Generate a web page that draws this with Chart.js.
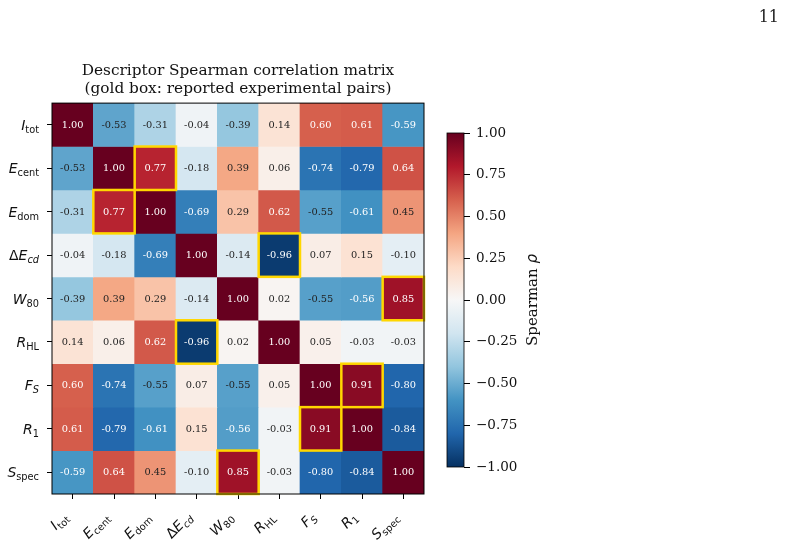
<!DOCTYPE html>
<html>
<head>
<meta charset="utf-8">
<script src="https://cdn.jsdelivr.net/npm/chart.js@4.4.1/dist/chart.umd.min.js"></script>
<style>
  html, body { margin: 0; padding: 0; background: #fff; }
  #wrap { position: relative; width: 786px; height: 545px; }
  canvas { position: absolute; left: 0; top: 0; }
  #page { position: absolute; right: 7px; top: 7px; font: 16px 'DejaVu Serif', serif; color: #222; }
</style>
</head>
<body>
<div id="wrap">
  <canvas id="heat" width="786" height="545"></canvas>
  <canvas id="cbar" width="786" height="545"></canvas>
  <div id="page">11</div>
</div>
<script>
// descriptors (main symbol + subscript), same order on both axes
const names     = ['I_tot', 'E_cent', 'E_dom', 'ΔE_cd', 'W_80', 'R_HL', 'F_S', 'R_1', 'S_spec'];
const labelMain = ['I', 'E', 'E', 'ΔE', 'W', 'R', 'F', 'R', 'S'];
const labelSub  = ['tot', 'cent', 'dom', 'cd', '80', 'HL', 'S', '1', 'spec'];
const subItalic = [false, false, false, true, false, false, true, false, false];

// Spearman rho, row by row
const rho = [
  [ 1.00, -0.53, -0.31, -0.04, -0.39,  0.14,  0.60,  0.61, -0.59],
  [-0.53,  1.00,  0.77, -0.18,  0.39,  0.06, -0.74, -0.79,  0.64],
  [-0.31,  0.77,  1.00, -0.69,  0.29,  0.62, -0.55, -0.61,  0.45],
  [-0.04, -0.18, -0.69,  1.00, -0.14, -0.96,  0.07,  0.15, -0.10],
  [-0.39,  0.39,  0.29, -0.14,  1.00,  0.02, -0.55, -0.56,  0.85],
  [ 0.14,  0.06,  0.62, -0.96,  0.02,  1.00,  0.05, -0.03, -0.03],
  [ 0.60, -0.74, -0.55,  0.07, -0.55,  0.05,  1.00,  0.91, -0.80],
  [ 0.61, -0.79, -0.61,  0.15, -0.56, -0.03,  0.91,  1.00, -0.84],
  [-0.59,  0.64,  0.45, -0.10,  0.85, -0.03, -0.80, -0.84,  1.00]
];

// reported experimental pairs [row, col]
const goldPairs = [[1, 2], [2, 1], [3, 5], [5, 3], [4, 8], [8, 4], [6, 7], [7, 6]];

const cbMin = -1, cbMax = 1, cbStep = 0.25;

// RdBu_r stops, -1 -> +1
const RDBU_R = ['#053061', '#2166ac', '#4393c3', '#92c5de', '#d1e5f0', '#f7f7f7',
                '#fddbc7', '#f4a582', '#d6604d', '#b2182b', '#67001f'];

function hex2rgb(h) { return [1, 3, 5].map(i => parseInt(h.substr(i, 2), 16)); }
function cmap(v) {
  const t = Math.min(1, Math.max(0, (v - cbMin) / (cbMax - cbMin))) * (RDBU_R.length - 1);
  const i = Math.min(RDBU_R.length - 2, Math.floor(t)), f = t - i;
  const a = hex2rgb(RDBU_R[i]), b = hex2rgb(RDBU_R[i + 1]);
  const c = a.map((x, k) => Math.round(x + (b[k] - x) * f));
  return `rgb(${c[0]},${c[1]},${c[2]})`;
}

const SANS = '"DejaVu Sans", sans-serif';
const SERIF = '"DejaVu Serif", serif';

// mathtext-like label: italic symbol + smaller subscript
function mathParts(i, size) {
  const parts = [];
  let m = labelMain[i];
  if (m.startsWith('Δ')) { parts.push({ t: 'Δ', font: `${size}px ${SANS}`, dy: 0 }); m = m.slice(1); }
  parts.push({ t: m, font: `italic ${size}px ${SANS}`, dy: 0 });
  parts.push({ t: labelSub[i], font: `${subItalic[i] ? 'italic ' : ''}${(size * 0.7).toFixed(1)}px ${SANS}`, dy: size * 0.22 });
  return parts;
}
function drawMath(ctx, i, size, xRight, yBase) {
  const parts = mathParts(i, size);
  let w = 0;
  parts.forEach(p => { ctx.font = p.font; p.w = ctx.measureText(p.t).width; w += p.w; });
  let x = xRight - w;
  ctx.textAlign = 'left';
  ctx.textBaseline = 'alphabetic';
  parts.forEach(p => { ctx.font = p.font; ctx.fillText(p.t, x, yBase + p.dy); x += p.w; });
}

const heatPlugin = {
  id: 'heatExtras',
  afterDatasetsDraw(chart) {
    const ctx = chart.ctx;
    ctx.save();
    // cell values
    ctx.font = `9.8px ${SERIF}`;
    ctx.textAlign = 'center';
    ctx.textBaseline = 'middle';
    rho.forEach((row, r) => {
      chart.getDatasetMeta(r).data.forEach((el, c) => {
        const p = el.getCenterPoint();
        const v = row[c];
        ctx.fillStyle = Math.abs(v) > 0.55 ? '#fff' : '#222';
        ctx.fillText(v.toFixed(2), p.x, p.y + 0.5);
      });
    });
    // gold boxes
    ctx.strokeStyle = '#ffd700';
    ctx.lineWidth = 2.5;
    goldPairs.forEach(([r, c]) => {
      const el = chart.getDatasetMeta(r).data[c];
      const { x, y, base, width } = el.getProps(['x', 'y', 'base', 'width'], true);
      ctx.strokeRect(x - width / 2, Math.min(y, base), width, Math.abs(base - y));
    });
    ctx.restore();
  },
  afterDraw(chart) {
    const ctx = chart.ctx, a = chart.chartArea;
    const xs = chart.scales.x, ys = chart.scales.y;
    ctx.save();
    ctx.strokeStyle = '#000';
    ctx.lineWidth = 1;
    ctx.strokeRect(a.left, a.top, a.right - a.left, a.bottom - a.top);
    ctx.fillStyle = '#111';
    names.forEach((_, i) => {
      drawMath(ctx, i, 14, a.left - 13, ys.getPixelForValue(i) + 5);
      ctx.save();
      ctx.translate(xs.getPixelForValue(i) - 4, a.bottom + 24);
      ctx.rotate(-Math.PI / 4);
      drawMath(ctx, i, 14, 0, 0);
      ctx.restore();
    });
    ctx.restore();
  }
};

new Chart(document.getElementById('heat'), {
  type: 'bar',
  data: {
    labels: names,
    datasets: rho.map((row, r) => ({
      label: names[r],
      data: row.map(() => [r - 0.5, r + 0.5]),
      backgroundColor: row.map(cmap),
      borderWidth: 0
    }))
  },
  options: {
    responsive: false,
    animation: false,
    grouped: false,
    barPercentage: 1,
    categoryPercentage: 1,
    layout: { padding: { left: 0, right: 362, top: 0, bottom: 0 } },
    plugins: {
      legend: { display: false },
      tooltip: { enabled: false },
      title: {
        display: true,
        fullSize: false,
        text: ['Descriptor Spearman correlation matrix', '(gold box: reported experimental pairs)'],
        font: { family: 'DejaVu Serif', size: 15.3, weight: 'normal', lineHeight: 1.18 },
        color: '#111',
        padding: { top: 62, bottom: 5 }
      }
    },
    scales: {
      x: {
        type: 'category',
        offset: true,
        grid: { display: true, offset: false, drawOnChartArea: false, drawTicks: true, tickLength: 5, tickColor: '#000' },
        border: { display: false },
        ticks: { callback: () => '', maxRotation: 0, autoSkip: false },
        afterFit: s => { s.height = 51; }
      },
      y: {
        type: 'linear',
        min: -0.5,
        max: 8.5,
        reverse: true,
        afterBuildTicks: s => { s.ticks = names.map((_, i) => ({ value: i })); },
        grid: { display: true, drawOnChartArea: false, drawTicks: true, tickLength: 5, tickColor: '#000' },
        border: { display: false },
        ticks: { callback: () => '', autoSkip: false },
        afterFit: s => { s.width = 52; }
      }
    }
  },
  plugins: [heatPlugin]
});

// colorbar
const cbPlugin = {
  id: 'cbFill',
  beforeDatasetsDraw(chart) {
    const ctx = chart.ctx, a = chart.chartArea;
    const g = ctx.createLinearGradient(0, a.bottom, 0, a.top);
    RDBU_R.forEach((c, i) => g.addColorStop(i / (RDBU_R.length - 1), c));
    ctx.save();
    ctx.fillStyle = g;
    ctx.fillRect(a.left, a.top, a.right - a.left, a.bottom - a.top);
    ctx.strokeStyle = '#000';
    ctx.lineWidth = 0.8;
    ctx.strokeRect(a.left, a.top, a.right - a.left, a.bottom - a.top);
    // label
    ctx.translate(a.right + 69, (a.top + a.bottom) / 2);
    ctx.rotate(-Math.PI / 2);
    ctx.fillStyle = '#111';
    ctx.textBaseline = 'middle';
    const t1 = 'Spearman ';
    ctx.font = `15px ${SERIF}`;
    const w1 = ctx.measureText(t1).width;
    ctx.font = `italic 15px ${SANS}`;
    const w2 = ctx.measureText('ρ').width;
    const x = -(w1 + w2) / 2;
    ctx.textAlign = 'left';
    ctx.font = `15px ${SERIF}`;
    ctx.fillText(t1, x, 0);
    ctx.font = `italic 15px ${SANS}`;
    ctx.fillText('ρ', x + w1, 0);
    ctx.restore();
  }
};

new Chart(document.getElementById('cbar'), {
  type: 'bar',
  data: { labels: [''], datasets: [{ data: [null] }] },
  options: {
    responsive: false,
    animation: false,
    layout: { padding: { left: 447, top: 133, bottom: 78, right: 242 } },
    plugins: { legend: { display: false }, tooltip: { enabled: false } },
    scales: {
      x: { display: false },
      y: {
        position: 'right',
        min: cbMin,
        max: cbMax,
        ticks: {
          stepSize: cbStep,
          padding: 6,
          color: '#111',
          font: { family: 'DejaVu Serif', size: 13.5 },
          callback: v => (v < 0 ? '\u2212' : '') + Math.abs(v).toFixed(2)
        },
        grid: { display: true, drawOnChartArea: false, drawTicks: true, tickLength: 6, tickColor: '#000' },
        border: { display: false },
        afterFit: s => { s.width = 80; }
      }
    }
  },
  plugins: [cbPlugin]
});
</script>
</body>
</html>
